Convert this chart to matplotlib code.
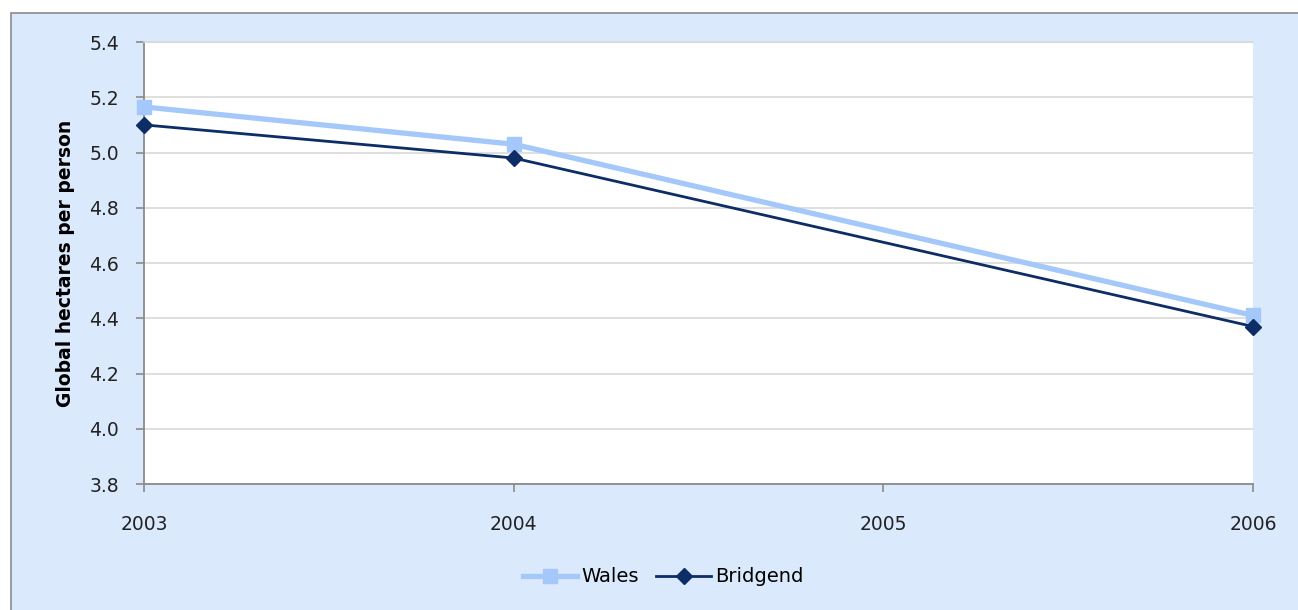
import matplotlib
matplotlib.use("Agg")
import matplotlib.pyplot as plt
from matplotlib.patches import Rectangle
from matplotlib.lines import Line2D

years = [2003, 2004, 2006]
wales = [5.165, 5.03, 4.41]
bridgend = [5.10, 4.98, 4.37]
xticks = [2003, 2004, 2005, 2006]
yticks = [3.8, 4.0, 4.2, 4.4, 4.6, 4.8, 5.0, 5.2, 5.4]

BG = "#dbe9fc"
WALES_C = "#a3c8f9"
BRID_C = "#0d2d66"

fig = plt.figure(figsize=(12.98, 6.10), dpi=100)
fig.patch.set_facecolor("white")
# light-blue chart area with grey frame
fig.add_artist(Rectangle((11 / 1298, -0.05), 1.1, 0.05 + (610 - 13) / 610,
                         transform=fig.transFigure, facecolor=BG,
                         edgecolor="#8c8c8c", lw=1.2, zorder=0))

ax = fig.add_axes([144 / 1298, (610 - 484) / 610, (1253 - 144) / 1298, (484 - 42) / 610])
ax.set_facecolor("white")
ax.plot(years, wales, color=WALES_C, lw=3.8, marker="s", ms=10, mec=WALES_C,
        clip_on=False, zorder=3, label="Wales")
ax.plot(years, bridgend, color=BRID_C, lw=2.0, marker="D", ms=8, mec=BRID_C,
        clip_on=False, zorder=4, label="Bridgend")

ax.set_xlim(2003, 2006)
ax.set_ylim(3.8, 5.4)
ax.set_xticks(xticks)
ax.set_xticklabels([str(x) for x in xticks])
ax.set_yticks(yticks)
ax.set_yticklabels([f"{y:.1f}" for y in yticks])
ax.yaxis.grid(True, color="#d9d9d9", lw=1.2)
ax.set_axisbelow(True)
ax.spines["right"].set_visible(False)
ax.spines["top"].set_color("#d9d9d9")
ax.spines["top"].set_linewidth(1.2)
for s in ["left", "bottom"]:
    ax.spines[s].set_color("#8a8a8a")
    ax.spines[s].set_linewidth(1.3)
ax.tick_params(axis="both", colors="#8a8a8a", length=6, width=1.2, labelcolor="#222222",
               labelsize=13.5)
ax.tick_params(axis="x", pad=16)
ax.tick_params(axis="y", pad=12)
ax.set_ylabel("Global hectares per person", fontsize=13.5, fontweight="bold", labelpad=10)

handles = [Line2D([], [], color=WALES_C, lw=3.8, marker="s", ms=10),
           Line2D([], [], color=BRID_C, lw=2.0, marker="D", ms=8)]
fig.legend(handles, ["Wales", "Bridgend"], loc="center", bbox_to_anchor=(663 / 1298, 1 - 577 / 610),
           ncol=2, frameon=False, fontsize=14, handlelength=2.8, handletextpad=0.2,
           columnspacing=0.9)

fig.savefig("out.png", dpi=100)
